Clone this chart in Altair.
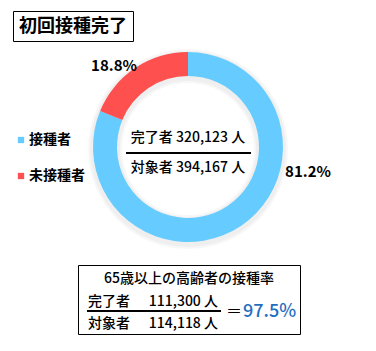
import altair as alt
import pandas as pd

categories = ["接種者", "未接種者"]
shares = [81.2, 18.8]
colors = ["#66CCFF", "#FF5050"]
share_labels = ["81.2%", "18.8%"]

title_text = "初回接種完了"
done_total = "完了者 320,123 人"
target_total = "対象者 394,167 人"
elder_title = "65歳以上の高齢者の接種率"
elder_done = ["完了者", "111,300 人"]
elder_target = ["対象者", "114,118 人"]
elder_rate = "97.5%"

FONT = "Noto Sans CJK JP"
W, H = 376, 351
CX, CY = 188, 147

df = pd.DataFrame({"cat": categories, "share": shares, "order": [0, 1], "label": share_labels})

color_scale = alt.Scale(domain=categories, range=colors)

shadow1 = alt.Chart(pd.DataFrame({"a": [1]})).mark_arc(
    outerRadius=100, innerRadius=66, color="#000000", opacity=0.03
).encode(theta=alt.value(6.2832), x=alt.value(CX), y=alt.value(CY + 2))
shadow2 = alt.Chart(pd.DataFrame({"a": [1]})).mark_arc(
    outerRadius=98, innerRadius=68, color="#000000", opacity=0.03
).encode(theta=alt.value(6.2832), x=alt.value(CX), y=alt.value(CY + 2))

donut = alt.Chart(df).mark_arc(outerRadius=95, innerRadius=71).encode(
    theta=alt.Theta("share:Q", stack=True),
    order=alt.Order("order:Q"),
    color=alt.Color("cat:N", scale=color_scale, legend=None),
    x=alt.value(CX), y=alt.value(CY),
)

lbl_pos = pd.DataFrame({"label": share_labels, "px": [308, 114], "py": [172, 66]})
pct = alt.Chart(lbl_pos).mark_text(font=FONT, fontSize=15, fontWeight="bold", color="#000000").encode(
    text="label:N", x=alt.X("px:Q", scale=None), y=alt.Y("py:Q", scale=None)
)

# legend
leg = pd.DataFrame({"cat": categories, "py": [140, 176], "tx": [29, 29]})
leg_sq = alt.Chart(leg).mark_square(size=40, opacity=1).encode(
    x=alt.value(21), y=alt.Y("py:Q", scale=None),
    color=alt.Color("cat:N", scale=color_scale, legend=None),
)
leg_tx = alt.Chart(leg).mark_text(font=FONT, fontSize=14, fontWeight="bold", align="left", color="#000000").encode(
    x=alt.X("tx:Q", scale=None), y=alt.Y("py:Q", scale=None), text="cat:N"
)

# title box
tbox = alt.Chart(pd.DataFrame({"a": [1]})).mark_rect(fill="white", stroke="#000000", strokeWidth=1).encode(
    x=alt.value(13.5), x2=alt.value(133.5), y=alt.value(11.5), y2=alt.value(41.5)
)
ttext = alt.Chart(pd.DataFrame({"t": [title_text]})).mark_text(font=FONT, fontSize=18, fontWeight="bold", color="#000000").encode(
    x=alt.value(73), y=alt.value(27), text="t:N"
)

# center text
ctr = pd.DataFrame({"t": [done_total, target_total], "py": [138, 168]})
ctext = alt.Chart(ctr).mark_text(font=FONT, fontSize=14, fontWeight=500, color="#000000").encode(
    x=alt.value(188), y=alt.Y("py:Q", scale=None), text="t:N"
)
cline = alt.Chart(pd.DataFrame({"a": [1]})).mark_rule(color="#000000", strokeWidth=2).encode(
    x=alt.value(126), x2=alt.value(251), y=alt.value(153)
)

# bottom box
bbox = alt.Chart(pd.DataFrame({"a": [1]})).mark_rect(fill="white", stroke="#000000", strokeWidth=1).encode(
    x=alt.value(78.5), x2=alt.value(300.5), y=alt.value(265.5), y2=alt.value(334.5)
)
btitle = alt.Chart(pd.DataFrame({"t": [elder_title]})).mark_text(font=FONT, fontSize=14, fontWeight=500, color="#000000").encode(
    x=alt.value(189), y=alt.value(279), text="t:N"
)
bl = pd.DataFrame({"t": [elder_done[0], elder_target[0]], "py": [302, 324]})
bleft = alt.Chart(bl).mark_text(font=FONT, fontSize=14, fontWeight=500, align="left", color="#000000").encode(
    x=alt.value(88), y=alt.Y("py:Q", scale=None), text="t:N"
)
br = pd.DataFrame({"t": [elder_done[1], elder_target[1]], "py": [302, 324]})
bright = alt.Chart(br).mark_text(font=FONT, fontSize=14, fontWeight=500, align="right", color="#000000").encode(
    x=alt.value(218), y=alt.Y("py:Q", scale=None), text="t:N"
)
bline = alt.Chart(pd.DataFrame({"a": [1]})).mark_rule(color="#000000", strokeWidth=2).encode(
    x=alt.value(87), x2=alt.value(221), y=alt.value(311)
)
beq = alt.Chart(pd.DataFrame({"t": ["＝"]})).mark_text(font=FONT, fontSize=16, align="left", color="#000000").encode(
    x=alt.value(226), y=alt.value(312), text="t:N"
)
brate = alt.Chart(pd.DataFrame({"t": [elder_rate]})).mark_text(font=FONT, fontSize=18, fontWeight=500, align="left", color="#1F6FC0").encode(
    x=alt.value(243), y=alt.value(312), text="t:N"
)

chart = alt.layer(
    shadow1, shadow2, donut, pct, leg_sq, leg_tx, tbox, ttext, ctext, cline,
    bbox, btitle, bleft, bright, bline, beq, brate
).properties(
    width=W, height=H, autosize=alt.AutoSizeParams(type="none"), padding=0, background="white"
).configure_view(stroke=None)

chart.save("out.html", embed_options={"renderer": "svg", "actions": False})
